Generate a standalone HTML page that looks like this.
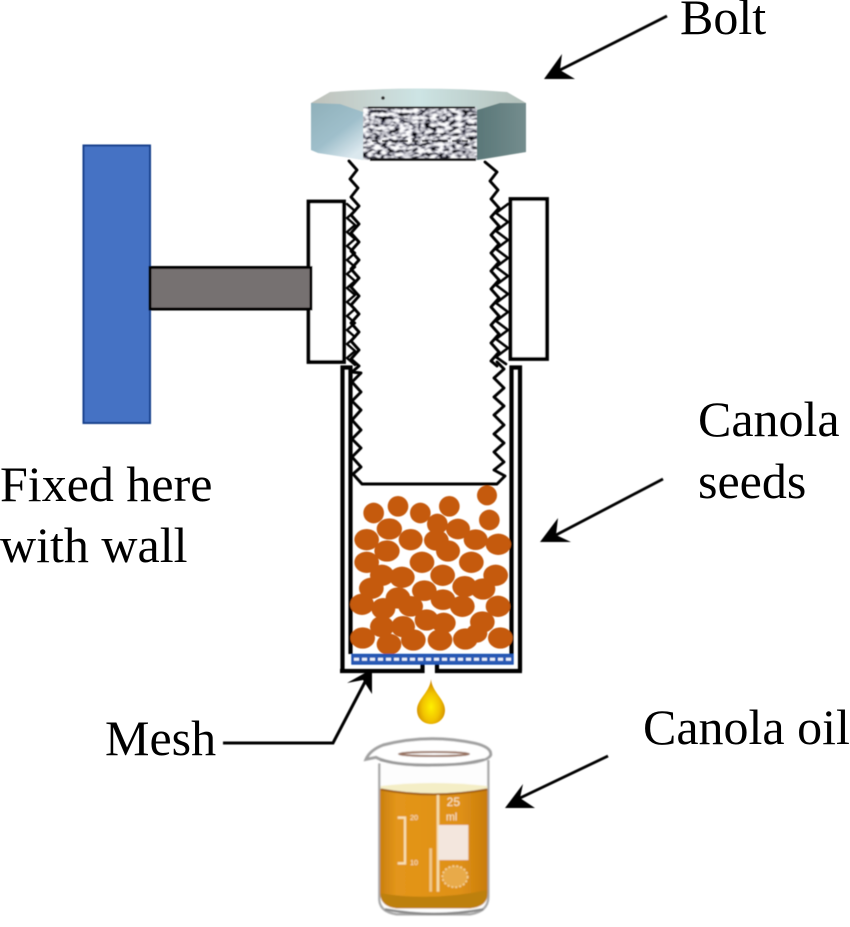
<!DOCTYPE html>
<html><head><meta charset="utf-8"><style>html,body{margin:0;padding:0;background:#fff}svg{display:block}text{font-family:"Liberation Serif",serif;font-size:50px;fill:#000}</style></head>
<body>
<svg width="850" height="927" viewBox="0 0 850 927" xmlns="http://www.w3.org/2000/svg">
<defs>
<filter id="b" x="-5%" y="-5%" width="110%" height="110%"><feGaussianBlur stdDeviation="0.5"/></filter>
<filter id="b2" x="-5%" y="-5%" width="110%" height="110%"><feGaussianBlur stdDeviation="0.9"/></filter>
<filter id="t" x="0" y="0" width="100%" height="100%"><feGaussianBlur stdDeviation="0.25"/></filter>
<filter id="noise" x="0" y="0" width="100%" height="100%"><feTurbulence type="fractalNoise" baseFrequency="0.16 0.3" numOctaves="2" seed="11"/><feColorMatrix type="matrix" values="3.4 1.4 0 0 -1.95 3.4 1.4 0 0 -1.95 3.4 1.4 0 0 -1.9 0 0 0 0 1"/><feGaussianBlur stdDeviation="0.5"/></filter>
<linearGradient id="lf" x1="0" y1="0" x2=".7" y2="1"><stop offset="0" stop-color="#8fb0ba"/><stop offset=".6" stop-color="#9fbfcb"/><stop offset="1" stop-color="#dbe8ee"/></linearGradient>
<linearGradient id="rf" x1="0" y1="0" x2="1" y2="0"><stop offset="0" stop-color="#5a7778"/><stop offset="1" stop-color="#748d8e"/></linearGradient>
<linearGradient id="tf" x1="0" y1="0" x2="1" y2="0"><stop offset="0" stop-color="#bfc1ba"/><stop offset=".5" stop-color="#cde4e4"/><stop offset="1" stop-color="#b2bfb9"/></linearGradient>
<radialGradient id="drop" cx=".5" cy=".62" r=".55"><stop offset="0" stop-color="#fff000"/><stop offset=".55" stop-color="#f2c400"/><stop offset="1" stop-color="#d08a08"/></radialGradient>
<linearGradient id="oil" x1="0" y1="0" x2="1" y2="0"><stop offset="0" stop-color="#c97f0e"/><stop offset=".15" stop-color="#e3951a"/><stop offset=".75" stop-color="#df9015"/><stop offset="1" stop-color="#c87c0c"/></linearGradient>
</defs>

<g filter="url(#t)">
<text x="680" y="34">Bolt</text>
<text x="698" y="436">Canola</text>
<text x="698" y="498">seeds</text>
<text x="0" y="501">Fixed here</text>
<text x="0" y="562">with wall</text>
<text x="105" y="755">Mesh</text>
<text x="643" y="744">Canola oil</text>
</g>

<g filter="url(#b)">
<rect x="83.5" y="145.5" width="66.5" height="277.5" fill="#4472c4" stroke="#173f8c" stroke-width="2"/>
<rect x="308.5" y="201.5" width="35.5" height="160.5" fill="#fff" stroke="#000" stroke-width="3.8"/>
<rect x="510.5" y="199" width="36.5" height="160" fill="#fff" stroke="#000" stroke-width="3.8"/>
<rect x="150" y="267.5" width="161" height="41.5" fill="#767171" stroke="#000" stroke-width="3"/>

<g fill="none" stroke="#000" stroke-width="4.2">
<path d="M342.5 671V367.5H350.5V654"/>
<path d="M520 671V367.5H511.5V654"/>
<path d="M340 671H422.5V664"/>
<path d="M437 664V671H522"/>
</g>

<g fill="none" stroke="#000" stroke-linejoin="round" stroke-linecap="round">
<polyline stroke-width="2.9" points="349,161 357,170 350,179 358,188 351,197 359,206 351,215 359,224 351,233 359,242 351,251 359,260 351,269 359,278 351,287 359,296 351,305 359,314 351,323 359,332 351,341 359,350 351,359 359,366 352,372 361,373 352,382 361,392 352,401 361,410 352,420 361,430 352,439 361,448 352,457 361,467 353,474 362,484 497,484 505,476 494,470 504,462 494,452 504,443 494,434 504,425 494,415 504,406 494,397 504,388 494,378 504,369 497,362"/>
<polyline stroke-width="2.4" points="347,204 355,211 347,218 355,225 347,232 355,239 347,246 355,253 347,260 355,267 347,274 355,281 347,288 355,295 347,302 355,309 347,316 355,323 347,330 355,337 347,344 355,351 347,358 355,365"/>
<polyline stroke-width="2.9" points="485,162 497,172 490,181 498,190 491,199 499,208 491,217 499,226 491,235 499,244 491,253 499,262 491,271 499,280 491,289 499,298 491,307 499,316 491,325 499,334 491,343 499,352 491,361 497,366"/>
<polyline stroke-width="2.6" points="508,204 496,213 508,222 496,231 508,240 496,249 508,258 496,267 508,276 496,285 508,294 496,303 508,312 496,321 508,330 496,339 508,348 496,357 506,364"/>
</g>

<g transform="translate(320 470) scale(.33333)" fill="#c55a11">
<ellipse cx="501" cy="76" rx="30" ry="30"/><ellipse cx="508" cy="150" rx="31" ry="31"/><ellipse cx="388" cy="109" rx="31" ry="31"/><ellipse cx="301" cy="129" rx="31" ry="31"/><ellipse cx="234" cy="109" rx="31" ry="31"/><ellipse cx="161" cy="129" rx="31" ry="31"/><ellipse cx="208" cy="177" rx="38" ry="32"/><ellipse cx="140" cy="209" rx="37" ry="32"/><ellipse cx="272" cy="209" rx="36" ry="32"/><ellipse cx="352" cy="162" rx="31" ry="31"/><ellipse cx="414" cy="177" rx="36" ry="31"/><ellipse cx="349" cy="211" rx="37" ry="31"/><ellipse cx="384" cy="243" rx="36" ry="32"/><ellipse cx="467" cy="209" rx="36" ry="31"/><ellipse cx="535" cy="223" rx="38" ry="32"/><ellipse cx="201" cy="243" rx="38" ry="32"/><ellipse cx="140" cy="277" rx="37" ry="32"/><ellipse cx="306" cy="277" rx="37" ry="32"/><ellipse cx="454" cy="277" rx="37" ry="32"/><ellipse cx="186" cy="316" rx="36" ry="32"/><ellipse cx="246" cy="322" rx="38" ry="32"/><ellipse cx="368" cy="316" rx="37" ry="32"/><ellipse cx="527" cy="316" rx="37" ry="32"/><ellipse cx="154" cy="355" rx="37" ry="32"/><ellipse cx="434" cy="350" rx="37" ry="32"/><ellipse cx="489" cy="357" rx="37" ry="32"/><ellipse cx="313" cy="362" rx="37" ry="31"/><ellipse cx="126" cy="403" rx="36" ry="32"/><ellipse cx="234" cy="384" rx="37" ry="32"/><ellipse cx="369" cy="389" rx="37" ry="31"/><ellipse cx="427" cy="409" rx="37" ry="32"/><ellipse cx="534" cy="409" rx="37" ry="32"/><ellipse cx="190" cy="416" rx="36" ry="32"/><ellipse cx="272" cy="409" rx="37" ry="31"/><ellipse cx="320" cy="450" rx="36" ry="32"/><ellipse cx="371" cy="459" rx="36" ry="31"/><ellipse cx="487" cy="456" rx="37" ry="32"/><ellipse cx="186" cy="470" rx="36" ry="32"/><ellipse cx="249" cy="470" rx="36" ry="32"/><ellipse cx="128" cy="504" rx="37" ry="32"/><ellipse cx="207" cy="523" rx="37" ry="32"/><ellipse cx="280" cy="510" rx="37" ry="32"/><ellipse cx="360" cy="510" rx="37" ry="32"/><ellipse cx="436" cy="507" rx="37" ry="32"/><ellipse cx="470" cy="490" rx="32" ry="28"/><ellipse cx="541" cy="504" rx="37" ry="32"/>
</g>

<rect x="352" y="654.5" width="161" height="9.5" fill="#2a5bb5" stroke="#1d4fb0" stroke-width="1.4"/>
<line x1="354" y1="659.3" x2="511" y2="659.3" stroke="#e8eefa" stroke-width="3" stroke-dasharray="5 3"/>

<g stroke="#000" stroke-width="2.8" fill="none">
<line x1="667" y1="16" x2="560" y2="70"/>
<line x1="663" y1="479" x2="556" y2="535"/>
<line x1="608" y1="756" x2="520" y2="798"/>
<path d="M223 743H333L366 680" stroke-width="3"/>
</g>
<g fill="#000">
<polygon points="544,79 562,54 560,70 575,79"/>
<polygon points="540,542 558,518 556,535 571,542"/>
<polygon points="505,808 523,784 520,798 535,808"/>
<polygon points="372,669 347,683 363,680 372,694"/>
</g>

<path d="M431 679C432 692 445 699 445 710C445 719 438 724 431 724C424 724 417 719 417 710C417 699 430 692 431 679Z" fill="url(#drop)"/>

<path d="M311 103L330 92Q420 85 507 92L526 103L526 152L480 160H363L311 150Z" fill="url(#tf)"/>
<path d="M311 103L340 104L363 112V160L318 153L311 150Z" fill="url(#lf)"/>
<path d="M477 110L500 103L526 103V152L477 160Z" fill="url(#rf)"/>
<rect x="363" y="107" width="114" height="53" fill="#555" filter="url(#noise)"/>
<line x1="368" y1="107.5" x2="475" y2="107.5" stroke="#222" stroke-width="2"/>
<line x1="372" y1="141" x2="470" y2="141" stroke="#222" stroke-width="2" stroke-dasharray="6 4" opacity=".7"/>
<line x1="370" y1="159.5" x2="476" y2="159.5" stroke="#111" stroke-width="2.4"/>
<circle cx="383" cy="98" r="1.8" fill="#333"/>
</g>

<g filter="url(#b2)">
<g transform="translate(360 730) scale(.33333)">
<path d="M58 100V510Q60 545 110 553H330Q385 545 385 500V90" fill="#fdfdfd" stroke="#a8a8a8" stroke-width="7"/>
<path d="M18 88Q30 60 70 45Q205 10 345 40Q395 52 392 75Q380 105 205 105Q90 105 48 82Z" fill="#fff" stroke="#a0a0a0" stroke-width="9"/>
<path d="M60 90Q205 125 372 88" fill="none" stroke="#999" stroke-width="6"/>
<ellipse cx="222" cy="72" rx="105" ry="6" fill="none" stroke="#96715f" stroke-width="6"/>
<path d="M62 168Q220 150 382 168V200H62Z" fill="#f4eec6"/>
<path d="M60 178Q220 212 383 178V490Q383 530 330 535H110Q62 530 60 490Z" fill="url(#oil)"/>
<path d="M62 178Q220 208 382 178" fill="none" stroke="#a05f10" stroke-width="6"/>
<path d="M62 490Q220 515 382 480V495Q380 530 330 535H110Q64 530 62 495Z" fill="#bd800c"/>
<path d="M75 538Q220 565 370 538" fill="none" stroke="#888" stroke-width="7"/>
<rect x="230" y="195" width="8" height="290" fill="#f6dcaa"/>
<rect x="235" y="285" width="90" height="105" fill="#f3e6dd"/>
<path d="M113 263H135V400H113" fill="none" stroke="#f8e0b4" stroke-width="7"/>
<ellipse cx="285" cy="440" rx="38" ry="32" fill="#e8aa48" stroke="#f4d49a" stroke-width="5" stroke-dasharray="6 6"/>
<text x="260" y="228" style="font-size:36px;fill:#fbeccd;font-family:'Liberation Sans',sans-serif">25</text>
<text x="258" y="272" style="font-size:32px;fill:#fbeccd;font-family:'Liberation Sans',sans-serif">ml</text>
<text x="150" y="270" style="font-size:22px;fill:#fbeccd;font-family:'Liberation Sans',sans-serif">20</text>
<text x="150" y="405" style="font-size:22px;fill:#fbeccd;font-family:'Liberation Sans',sans-serif">10</text>
<rect x="208" y="355" width="8" height="130" fill="#f0c98a"/>
</g>
</g>
</svg>
</body></html>
